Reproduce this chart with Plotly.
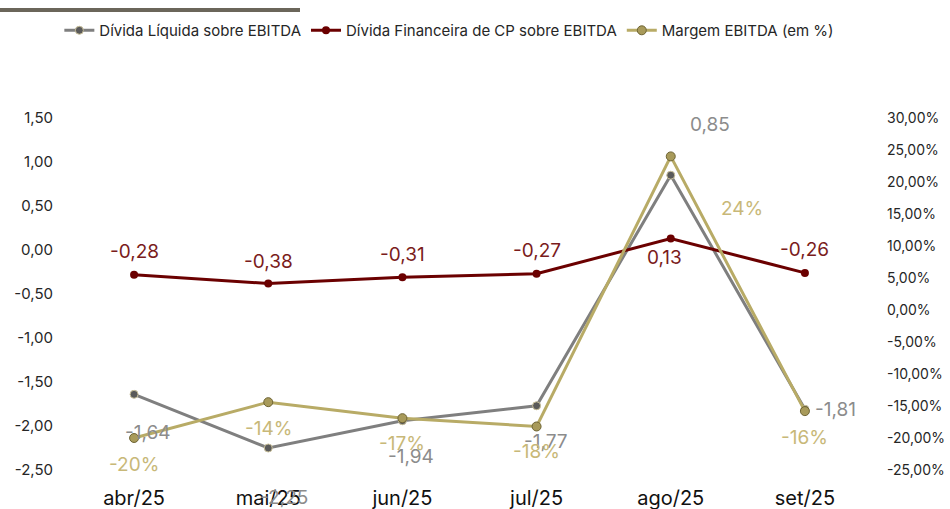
import plotly.graph_objects as go

categories = ["abr/25", "mai/25", "jun/25", "jul/25", "ago/25", "set/25"]
divida_liquida = [-1.64, -2.25, -1.94, -1.77, 0.85, -1.81]
divida_cp = [-0.28, -0.38, -0.31, -0.27, 0.13, -0.26]
margem_ebitda = [-0.20, -0.144, -0.169, -0.182, 0.24, -0.158]

left_ticks = [1.5, 1.0, 0.5, 0.0, -0.5, -1.0, -1.5, -2.0, -2.5]
left_ticktext = ["1,50", "1,00", "0,50", "0,00", "-0,50", "-1,00", "-1,50", "-2,00", "-2,50"]
right_ticks = [0.30, 0.25, 0.20, 0.15, 0.10, 0.05, 0.0, -0.05, -0.10, -0.15, -0.20, -0.25]
right_ticktext = ["30,00%", "25,00%", "20,00%", "15,00%", "10,00%", "5,00%", "0,00%",
                  "-5,00%", "-10,00%", "-15,00%", "-20,00%", "-25,00%"]

# label offsets (style only), in pixels
off_liq = [(14, -38), (16, -49), (9, -36), (9, -36), (39, 51), (31, 0)]
off_cp = [(0, 23), (0, 22), (0, 23), (0, 23), (-6, -19), (0, 23)]
off_mg = [(0, -26), (0, -26), (0, -25), (0, -25), (71, -52), (0, -26)]

GRAY = "#7f7f7f"
RED = "#6b0000"
GOLD = "#b8ab66"
FONT = "Inter, Open Sans, sans-serif"

def fmt_num(v):
    return f"{v:.2f}".replace(".", ",")

def fmt_pct(v):
    return f"{round(v*100):d}%"

fig = go.Figure()
fig.add_trace(go.Scatter(
    x=categories, y=divida_liquida, name="Dívida Líquida sobre EBITDA",
    mode="lines+markers", line=dict(color=GRAY, width=3),
    marker=dict(size=8, color="#5a5a5a", line=dict(color="#c9c09a", width=1)),
    yaxis="y"))
fig.add_trace(go.Scatter(
    x=categories, y=divida_cp, name="Dívida Financeira de CP sobre EBITDA",
    mode="lines+markers", line=dict(color=RED, width=3),
    marker=dict(size=8, color=RED),
    yaxis="y"))
fig.add_trace(go.Scatter(
    x=categories, y=margem_ebitda, name="Margem EBITDA (em %)",
    mode="lines+markers", line=dict(color=GOLD, width=3),
    marker=dict(size=9, color="#a89a5a", line=dict(color="#6e6434", width=1)),
    yaxis="y2"))

annotations = []
for c, v, (dx, dy) in zip(categories, divida_liquida, off_liq):
    annotations.append(dict(x=c, y=v, xref="x", yref="y", text=fmt_num(v), showarrow=False,
                            xshift=dx, yshift=dy, font=dict(size=19, color="#8c8c8c", family=FONT)))
for c, v, (dx, dy) in zip(categories, divida_cp, off_cp):
    annotations.append(dict(x=c, y=v, xref="x", yref="y", text=fmt_num(v), showarrow=False,
                            xshift=dx, yshift=dy, font=dict(size=19, color="#7a1c1c", family=FONT)))
for c, v, (dx, dy) in zip(categories, margem_ebitda, off_mg):
    annotations.append(dict(x=c, y=v, xref="x", yref="y2", text=fmt_pct(v), showarrow=False,
                            xshift=dx, yshift=dy, font=dict(size=19, color="#c8b878", family=FONT)))

fig.update_layout(
    width=950, height=509,
    margin=dict(l=67, r=78, t=118, b=39, autoexpand=False),
    paper_bgcolor="white", plot_bgcolor="white",
    font=dict(family=FONT, color="#262626"),
    showlegend=True,
    legend=dict(orientation="h", xref="container", yref="container", x=0.473, y=0.94,
                xanchor="center", yanchor="middle", font=dict(size=15, color="#262626"),
                itemwidth=30, tracegroupgap=0),
    xaxis=dict(type="category", range=[-0.5, 5.5], showgrid=False, zeroline=False,
               showline=False, ticks="", tickfont=dict(size=20, color="#111"),
               ticklabelstandoff=14),
    yaxis=dict(range=[-2.5, 1.5], tickvals=left_ticks, ticktext=left_ticktext,
               showgrid=False, zeroline=False, showline=False, ticks="",
               tickfont=dict(size=15, color="#262626"), ticklabelstandoff=13),
    yaxis2=dict(range=[-0.25, 0.30], tickvals=right_ticks, ticktext=right_ticktext,
                overlaying="y", side="right", showgrid=False, zeroline=False,
                showline=False, ticks="", tickfont=dict(size=14, color="#262626"),
                ticklabelstandoff=14),
    annotations=annotations,
    shapes=[dict(type="line", xref="paper", yref="paper",
                 x0=-67/805, x1=(300-67)/805, y0=(470-10)/352, y1=(470-10)/352,
                 line=dict(color="#6b665a", width=4))],
)

fig.write_html("out.html", config={"displayModeBar": False},
               post_script="document.body.style.margin='0';document.body.style.overflow='hidden';")
